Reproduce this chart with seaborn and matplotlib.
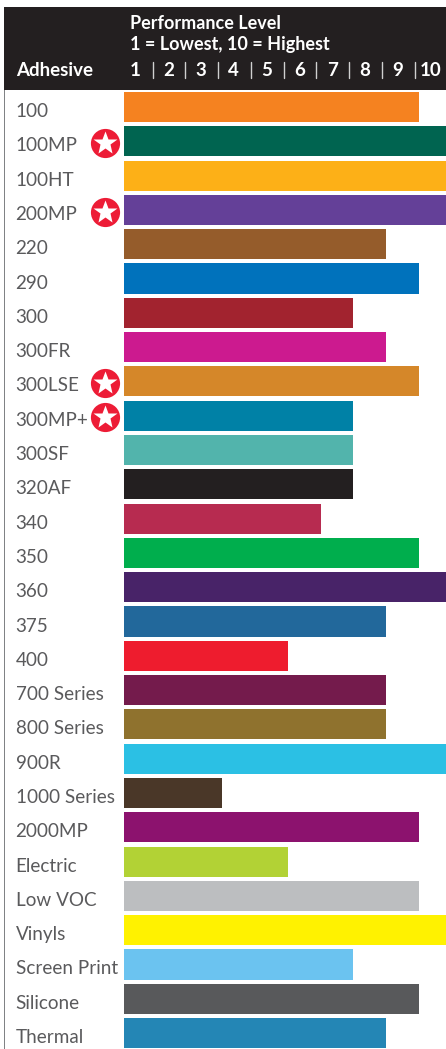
import matplotlib
matplotlib.use("Agg")
import matplotlib.pyplot as plt
from matplotlib.patches import Rectangle
from matplotlib.transforms import ScaledTranslation
import seaborn as sns
import pandas as pd

adhesives = ["100", "100MP", "100HT", "200MP", "220", "290", "300", "300FR", "300LSE", "300MP+",
             "300SF", "320AF", "340", "350", "360", "375", "400", "700 Series", "800 Series", "900R",
             "1000 Series", "2000MP", "Electric", "Low VOC", "Vinyls", "Screen Print", "Silicone", "Thermal"]
levels = [9, 10, 10, 10, 8, 9, 7, 8, 9, 7, 7, 7, 6, 9, 10, 8, 5, 8, 8, 10, 3, 9, 5, 9, 10, 7, 9, 8]
colors = ["#F58220", "#006450", "#FDB017", "#644098", "#955C2B", "#0072BC", "#A2232F", "#CC1A8F",
          "#D58729", "#0081A6", "#52B4AC", "#231F20", "#B72B50", "#00AE4D", "#482368", "#22689B",
          "#EE1C2E", "#741B4C", "#8F722E", "#2BC0E4", "#4A3728", "#8C126E", "#B2D235", "#BCBEC0",
          "#FFF200", "#6BC3F0", "#58595B", "#2486B5"]
starred = ["100MP", "200MP", "300LSE", "300MP+"]
scale_ticks = list(range(1, 11))

W, H = 446, 1049
sns.set_theme(style="white")
plt.rcParams["font.family"] = ["Lato", "DejaVu Sans"]

fig = plt.figure(figsize=(W / 100, H / 100), dpi=100)
top, bottom = 90.0, 1049.5
left = 124.0
ax = fig.add_axes([left / W, 1 - bottom / H, (W - left) / W, (bottom - top) / H])
ax.patch.set_alpha(0)

df = pd.DataFrame({"Adhesive": adhesives, "Level": levels})
sns.barplot(data=df, y="Adhesive", x="Level", hue="Adhesive", palette=colors, legend=False,
            width=0.875, saturation=1, ax=ax, zorder=3, linewidth=0, edgecolor="none")

px = 32.77
ax.set_xlim(0, (W - left) / px)
row = 34.3
ax.set_ylim((bottom - 107) / row, (top - 107) / row)
ax.set_xlabel("")
ax.set_ylabel("")
for s in ax.spines.values():
    s.set_visible(False)

# row labels, left aligned in the gutter
ax.set_yticks(range(len(adhesives)))
ax.set_yticklabels(adhesives, ha="left", color="#5a5a5c", fontsize=13.6)
ax.tick_params(axis="y", length=0, pad=(left - 15.5) * 0.72)
shift = ScaledTranslation(0, -3 / 100, fig.dpi_scale_trans)
for lab in ax.get_yticklabels():
    lab.set_transform(lab.get_transform() + shift)

# header band and left rule
fig.add_artist(Rectangle((4 / W, 1 - 90 / H), (W - 4) / W, 83 / H, transform=fig.transFigure,
                         facecolor="#231F20", edgecolor="none", zorder=-1))
fig.add_artist(Rectangle((3.5 / W, 0), 1.5 / W, 1 - 90 / H, transform=fig.transFigure,
                         facecolor="#808285", edgecolor="none", zorder=-1))

# header scale on the top axis
ax.xaxis.tick_top()
ax.set_xticks([v - 0.65 for v in scale_ticks])
ax.set_xticklabels(scale_ticks, color="white", fontweight="bold", fontsize=13.5)
ax.tick_params(axis="x", length=0, pad=8)
for v in scale_ticks[:-1]:
    ax.plot([v - 0.13, v - 0.13], [(62 - 107) / row, (78 - 107) / row],
            color="#d0d0d0", lw=1, clip_on=False, zorder=5)

fig.text(16 / W, 1 - 70.5 / H, "Adhesive", color="white", fontweight="bold", fontsize=13.5,
         va="center", ha="left")
fig.text(130 / W, 1 - 23.5 / H, "Performance Level", color="white", fontweight="bold", fontsize=13,
         va="center", ha="left")
fig.text(130 / W, 1 - 44.5 / H, "1 = Lowest, 10 = Highest", color="white", fontweight="bold", fontsize=13,
         va="center", ha="left")

# star badges
for name in starred:
    i = adhesives.index(name)
    ax.plot(-0.58, i + 0.05, "o", ms=21, mfc="#ED1C36", mec="none", clip_on=False, zorder=5)
    ax.plot(-0.58, i + 0.05, "*", ms=18, mfc="white", mec="none", clip_on=False, zorder=6)

fig.savefig("out.png", dpi=100)
